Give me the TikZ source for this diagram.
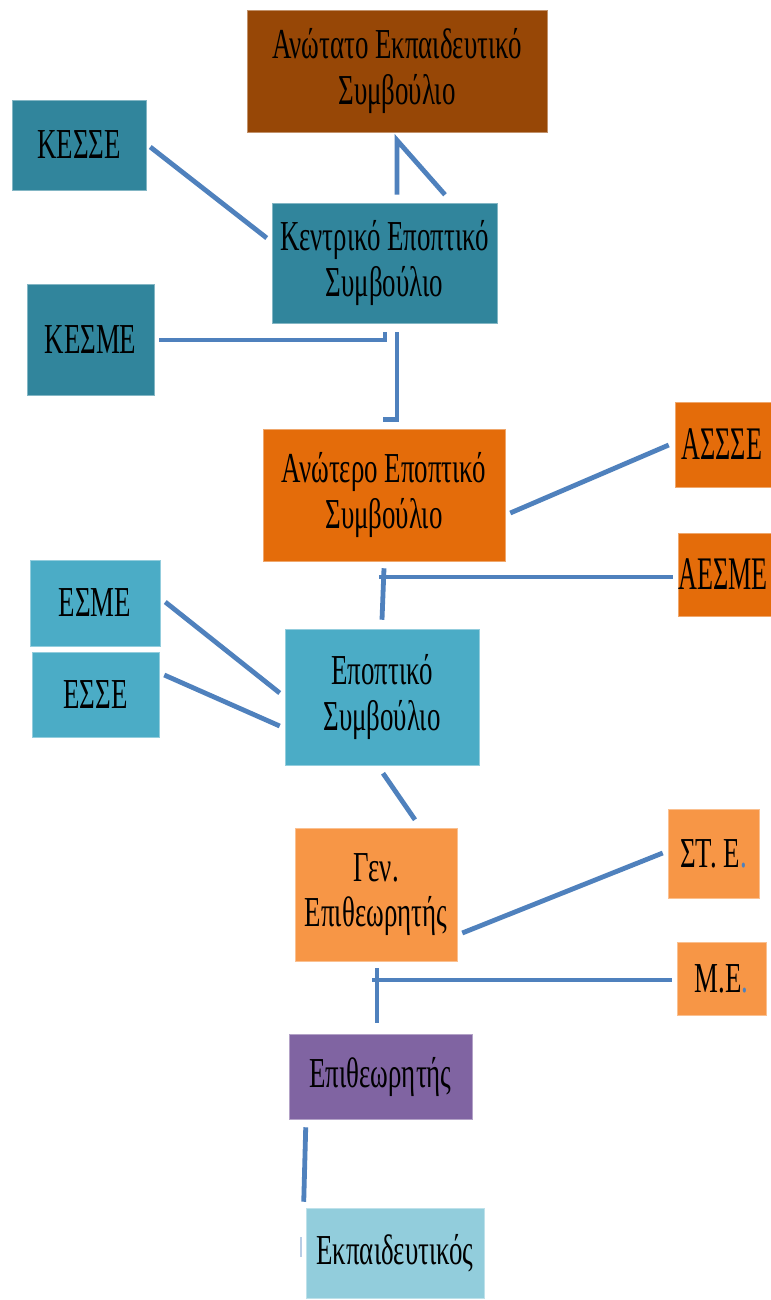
\documentclass[tikz,border=0pt]{standalone}
\usepackage{fontspec}
\setmainfont[FakeStretch=0.63]{Liberation Serif}
\newfontfamily\narrowfont[FakeStretch=0.56]{Liberation Serif}
\usetikzlibrary{calc}
\definecolor{cbrown}{HTML}{974706}
\definecolor{cteal}{HTML}{31859C}
\definecolor{corange}{HTML}{E46C0A}
\definecolor{caqua}{HTML}{4BACC6}
\definecolor{clorange}{HTML}{F79646}
\definecolor{cpurple}{HTML}{8064A2}
\definecolor{cpale}{HTML}{92CDDC}
\definecolor{cline}{HTML}{4F81BD}
\tikzset{
  box/.style={rectangle, draw=#1!60!white, line width=0.4pt, fill=#1, inner sep=0pt,
    align=center, text=black, font=\fontsize{32pt}{34pt}\selectfont},
  edgebox/.style={box=#1, align=left, font=\narrowfont\fontsize{35pt}{38pt}\selectfont},
  conn/.style={draw=cline, line width=3.6pt}
}
\begin{document}
\begin{tikzpicture}[x=0.75pt,y=-0.75pt]
\useasboundingbox (0,0) rectangle (771,1300);
\clip (0,0) rectangle (771,1300);
\fill[white] (0,0) rectangle (771,1300);
% nodes
\node[box=cbrown, minimum width=225pt, minimum height=91.5pt] (ane) at (397,71) {Ανώτατο Εκπαιδευτικό\\Συμβούλιο};
\node[box=cteal, minimum width=100.5pt, minimum height=67.5pt] (kesse) at (79,145) {ΚΕΣΣΕ};
\node[box=cteal, minimum width=168.75pt, minimum height=90pt] (kes) at (384.5,263) {Κεντρικό Εποπτικό\\Συμβούλιο};
\node[box=cteal, minimum width=95.25pt, minimum height=83.25pt] (kesme) at (90.5,339.5) {ΚΕΣΜΕ};
\node[box=corange, minimum width=181.5pt, minimum height=99pt] (aes) at (384,495) {Ανώτερο Εποπτικό\\Συμβούλιο};
\node[edgebox=corange, minimum width=72pt, minimum height=63.75pt, text width=72pt] (assse) at (723,444.5) {\hspace*{5pt}ΑΣΣΣΕ};
\node[edgebox=corange, minimum width=69.75pt, minimum height=62.25pt, text width=69.75pt] (aesme) at (724.5,574.5) {\hspace*{0.5pt}ΑΕΣΜΕ};
\node[box=caqua, minimum width=97.5pt, minimum height=64.5pt] (esme) at (95,603) {ΕΣΜΕ};
\node[box=caqua, minimum width=95.25pt, minimum height=63.75pt] (esse) at (95.5,694.5) {ΕΣΣΕ};
\node[box=caqua, minimum width=145.5pt, minimum height=102pt] (es) at (382,697) {Εποπτικό\\Συμβούλιο};
\node[box=clorange, minimum width=121.5pt, minimum height=99.75pt] (gen) at (376,894.5) {Γεν.\\Επιθεωρητής};
\node[box=clorange, minimum width=68.25pt, minimum height=66.75pt] (ste) at (713.5,853.5) {\raisebox{-5pt}{ΣΤ. Ε\textcolor{cline}{.}}};
\node[box=clorange, minimum width=66.75pt, minimum height=54.75pt] (me) at (721.5,978.5) {\raisebox{-5pt}{Μ.Ε\textcolor{cline}{.}}};
\node[box=cpurple, minimum width=137.25pt, minimum height=63.75pt] (epi) at (380.5,1076.5) {Επιθεωρητής};
\node[box=cpale, minimum width=133.5pt, minimum height=67.5pt] (ekp) at (395,1253) {Εκπαιδευτικός};
% connectors
\draw[conn] ([shift={(12.5,-8)}]kes.north) -- ([shift={(0,8)}]ane.south) -- ([shift={(60.5,-8)}]kes.north);
\draw[conn] ([shift={(4,2)}]kesse.east) -- ([shift={(-5,-25)}]kes.west);
\draw[conn] ([shift={(5,0.5)}]kesme.east) -| ([shift={(0.5,9)}]kes.south);
\draw[conn] ([shift={(12.5,9)}]kes.south) |- ([shift={(-1,-9)}]aes.north);
\draw[conn] ([shift={(5,18)}]aes.east) -- ([shift={(-6,0.5)}]assse.west);
\coordinate (v1) at ([shift={(0,7)}]aes.south);
\draw[conn] (v1) -- ([shift={(0,-9)}]es.north);
\draw[conn] ([shift={(-5,2.5)}]aesme.west) -- ([shift={(-5,2.5)}]aesme.west -| v1);
\draw[conn] ([shift={(5,-1)}]esme.east) -- ([shift={(-5,-4)}]es.west);
\draw[conn] ([shift={(5,-19.5)}]esse.east) -- ([shift={(-5,29)}]es.west);
\draw[conn] ([shift={(1,8)}]es.south) -- ([shift={(39,-8)}]gen.north);
\draw[conn] ([shift={(5,38.5)}]gen.east) -- ([shift={(-5,-0.5)}]ste.west);
\coordinate (v2) at ([shift={(1,7)}]gen.south);
\draw[conn] (v2) -- ([shift={(-3.5,-11)}]epi.north);
\draw[conn] ([shift={(-5,1.5)}]me.west) -- ([shift={(-5,1.5)}]me.west -| v2);
\draw[conn] ([shift={(17,8)}]epi.south west) -- ([shift={(-2,-6)}]ekp.north west);
\draw[draw=cline!40!white, line width=1.2pt] ([shift={(-5,-16)}]ekp.west) -- ([shift={(-5,4)}]ekp.west);
\end{tikzpicture}
\end{document}
